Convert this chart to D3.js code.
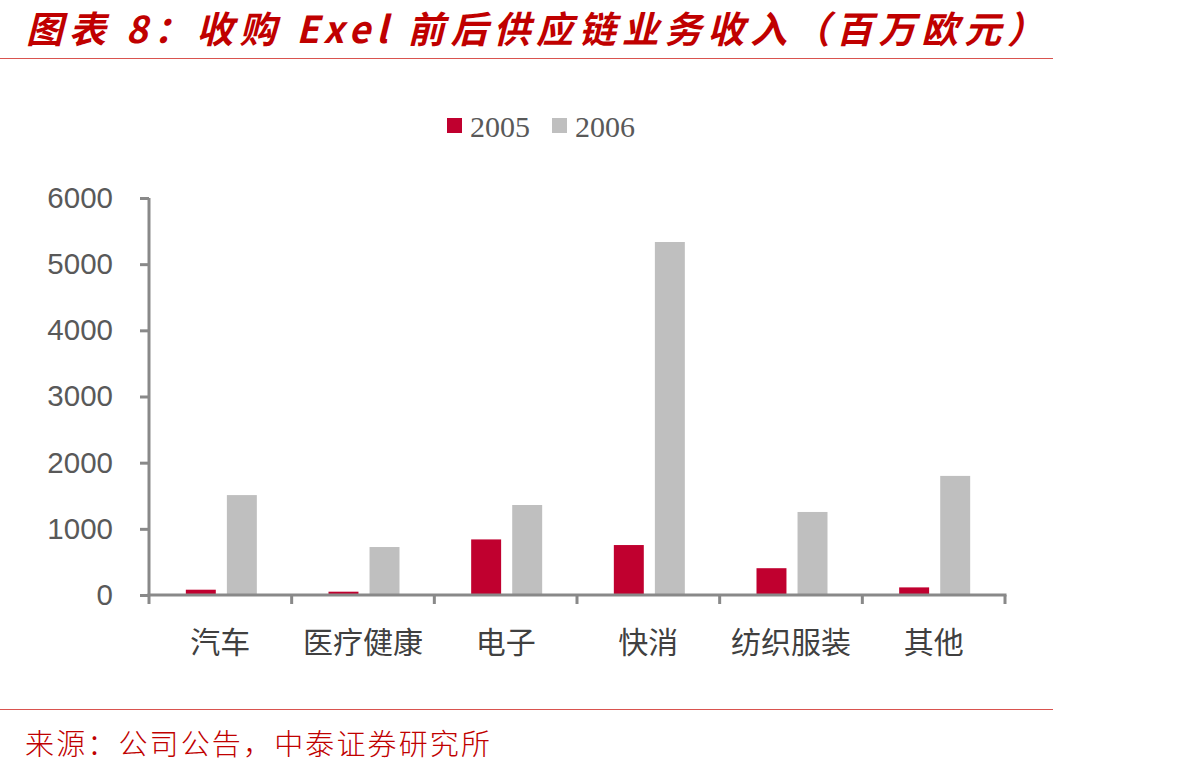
<!DOCTYPE html>
<html>
<head>
<meta charset="utf-8">
<script src="https://cdn.jsdelivr.net/npm/d3@7"></script>
<style>
  body { margin: 0; background: #fff; }
  svg { display: block; }
</style>
</head>
<body>
<div id="chart"></div>
<script>
// data
const categories = ["汽车", "医疗健康", "电子", "快消", "纺织服装", "其他"];
const seriesNames = ["2005", "2006"];
const values2005 = [80, 50, 840, 755, 405, 115];
const values2006 = [1510, 725, 1360, 5335, 1255, 1800];
const yTicks = [0, 1000, 2000, 3000, 4000, 5000, 6000];

const W = 1186, H = 774;
const red = "#C0002F", grey = "#BFBFBF", axisCol = "#898989", textCol = "#595959";

const svg = d3.select("#chart").append("svg")
    .attr("width", W)
    .attr("height", H);

// title + rules
svg.append("text")
    .attr("x", 26)
    .attr("y", 43)
    .attr("fill", "#C00000")
    .attr("font-family", "'Noto Sans CJK SC', sans-serif")
    .attr("font-weight", "bold")
    .attr("font-style", "italic")
    .attr("font-size", 37)
    .attr("textLength", 1018)
    .attr("lengthAdjust", "spacing")
    .text("图表 8：收购 Exel 前后供应链业务收入（百万欧元）");

svg.append("line")
    .attr("x1", 0).attr("x2", 1053)
    .attr("y1", 58.5).attr("y2", 58.5)
    .attr("stroke", "#D9534F").attr("stroke-width", 1.2);

svg.append("line")
    .attr("x1", 0).attr("x2", 1053)
    .attr("y1", 709.5).attr("y2", 709.5)
    .attr("stroke", "#D9534F").attr("stroke-width", 1.2);

svg.append("text")
    .attr("x", 25)
    .attr("y", 755)
    .attr("fill", "#C00000")
    .attr("font-family", "'Noto Sans CJK SC', serif")
    .attr("font-weight", 300)
    .attr("font-size", 29)
    .attr("textLength", 465)
    .attr("lengthAdjust", "spacing")
    .text("来源：公司公告，中泰证券研究所");

// scales
const x0 = d3.scaleBand()
    .domain(categories)
    .range([149, 1005])
    .paddingInner(0)
    .paddingOuter(0);

const x1 = d3.scaleBand()
    .domain(seriesNames)
    .range([0, 71])
    .paddingInner(0.27)
    .paddingOuter(0);

const y = d3.scaleLinear()
    .domain([0, 6000])
    .range([595, 198]);

const colour = d3.scaleOrdinal().domain(seriesNames).range([red, grey]);

// bars
const rows = categories.map((c, i) => ({cat: c, vals: [
    {key: "2005", value: values2005[i]},
    {key: "2006", value: values2006[i]}
]}));

const groups = svg.append("g")
  .selectAll("g")
  .data(rows)
  .join("g")
    .attr("transform", d => `translate(${x0(d.cat) + (x0.bandwidth() - 71) / 2 + 1},0)`);

groups.selectAll("rect")
  .data(d => d.vals)
  .join("rect")
    .attr("x", d => x1(d.key))
    .attr("y", d => y(d.value))
    .attr("width", x1.bandwidth())
    .attr("height", d => y(0) - y(d.value))
    .attr("fill", d => colour(d.key));

// y axis
const yAxis = svg.append("g")
    .attr("transform", "translate(149,0)")
    .call(d3.axisLeft(y).tickValues(yTicks).tickSize(9).tickPadding(27).tickFormat(d3.format("d")));

yAxis.select(".domain").attr("stroke", axisCol).attr("stroke-width", 3)
    .attr("d", `M0,${y(6000)}V${y(0)}`);
yAxis.selectAll(".tick line").attr("stroke", axisCol).attr("stroke-width", 3);
yAxis.selectAll(".tick text")
    .attr("fill", textCol)
    .attr("font-family", "'Liberation Sans', Arial, sans-serif")
    .attr("font-size", 29.5);

// x axis
const xAxis = svg.append("g")
    .attr("transform", `translate(0,${y(0)})`)
    .call(d3.axisBottom(x0).tickSize(0).tickPadding(37));

xAxis.select(".domain").attr("stroke", axisCol).attr("stroke-width", 3)
    .attr("d", "M147.5,0H1006.5");
xAxis.selectAll(".tick text")
    .attr("fill", "#404040")
    .attr("font-family", "'Noto Sans CJK SC', sans-serif")
    .attr("font-size", 30);

// category boundary ticks
const boundaries = categories.map(c => x0(c)).concat([x0.range()[1]]);
xAxis.selectAll(".sep")
  .data(boundaries)
  .join("line")
    .attr("class", "sep")
    .attr("x1", d => d).attr("x2", d => d)
    .attr("y1", 0).attr("y2", 9)
    .attr("stroke", axisCol).attr("stroke-width", 3);

// legend
const legendItems = [{name: "2005", x: 447}, {name: "2006", x: 552}];
const legend = svg.append("g");
legend.selectAll("rect")
  .data(legendItems)
  .join("rect")
    .attr("x", d => d.x)
    .attr("y", 118)
    .attr("width", 15)
    .attr("height", 15)
    .attr("fill", d => colour(d.name));
legend.selectAll("text")
  .data(legendItems)
  .join("text")
    .attr("x", d => d.x + 23)
    .attr("y", 137)
    .attr("fill", textCol)
    .attr("font-family", "'Liberation Serif', 'Times New Roman', serif")
    .attr("font-size", 30)
    .text(d => d.name);
</script>
</body>
</html>
